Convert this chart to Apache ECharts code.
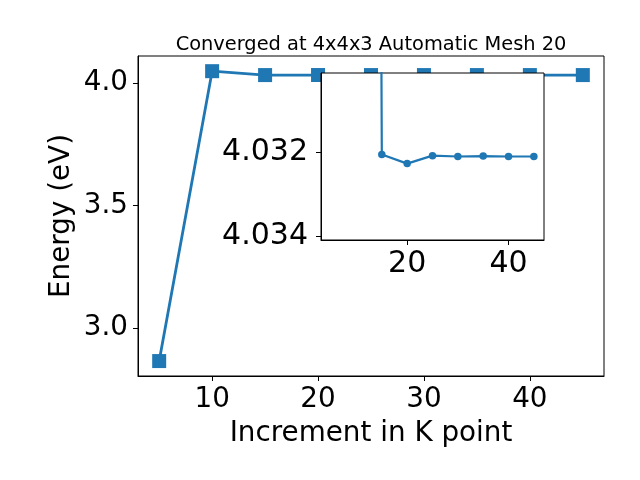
<!DOCTYPE html>
<html><head><meta charset="utf-8">
<script src="https://cdn.jsdelivr.net/npm/echarts@6/dist/echarts.min.js"></script>
<style>html,body{margin:0;padding:0;background:#fff}#c{width:640px;height:480px}</style>
</head><body><div id="c"></div>
<script>
// Main plot data
const kPoints = [5, 10, 15, 20, 25, 30, 35, 40, 45];
const energies = [2.864, 4.048, 4.03205, 4.03227, 4.03208, 4.0321, 4.03209, 4.0321, 4.0321];
const mainXTicks = [10, 20, 30, 40];
const mainYTicks = [3.0, 3.5, 4.0];
// Inset data (inverted y axis; the x=10 value lies off the top of the inset)
const insetK = [10, 15, 20, 25, 30, 35, 40, 45];
const insetEnergies = [3.9, 4.03205, 4.03227, 4.03208, 4.0321, 4.03209, 4.0321, 4.0321];
const insetXTicks = [20, 40];
const insetYTicks = [4.032, 4.034];

const FONT = 'DejaVu Sans';
const C = '#1f77b4';
const chart = echarts.init(document.getElementById('c'), null, {renderer: 'canvas'});
const axisCommon = (ticks, fmt, fs, margin) => ({
  axisLine: {show: true, onZero: false, lineStyle: {color: '#000', width: 1}},
  axisTick: {show: true, length: 5, lineStyle: {color: '#000', width: 1}, customValues: ticks},
  axisLabel: {show: true, margin: margin, color: '#000', fontFamily: FONT, fontSize: fs, customValues: ticks, formatter: fmt},
  splitLine: {show: false}
});
chart.setOption({
  animation: false,
  backgroundColor: '#fff',
  title: {text: 'Converged at 4x4x3 Automatic Mesh 20', left: 366, top: 30, textAlign: 'center',
    textStyle: {fontFamily: FONT, fontSize: 19.4, fontWeight: 'normal', color: '#000'}},
  grid: [
    {left: 138, top: 56, width: 466, height: 320, show: true, borderColor: '#000', borderWidth: 1, backgroundColor: 'transparent', z: 0},
    {left: 321, top: 73, width: 223, height: 167, show: true, borderColor: '#000', borderWidth: 1, backgroundColor: '#fff', z: 5}
  ],
  xAxis: [
    Object.assign({type: 'value', gridIndex: 0, min: 3, max: 47, name: 'Increment in K point', nameLocation: 'middle', nameGap: 44,
      nameMoveOverlap: false,
      nameTextStyle: {fontFamily: FONT, fontSize: 27.8, color: '#000'}}, axisCommon(mainXTicks, v => String(v), 27.8, 10)),
    Object.assign({type: 'value', gridIndex: 1, min: 3, max: 47, z: 6}, axisCommon(insetXTicks, v => String(v), 30, 9))
  ],
  yAxis: [
    Object.assign({type: 'value', gridIndex: 0, min: 2.803, max: 4.110, name: 'Energy (eV)', nameLocation: 'middle', nameGap: 62,
      nameMoveOverlap: false,
      nameTextStyle: {fontFamily: FONT, fontSize: 27.8, color: '#000'}}, axisCommon(mainYTicks, v => v.toFixed(1), 27.8, 10)),
    Object.assign({type: 'value', gridIndex: 1, min: 4.0301, max: 4.0341, inverse: true, z: 6}, axisCommon(insetYTicks, v => v.toFixed(3), 30, 13))
  ],
  series: [
    {type: 'line', xAxisIndex: 0, yAxisIndex: 0, data: kPoints.map((k, i) => [k, energies[i]]),
      symbol: 'rect', symbolSize: 14, showAllSymbol: true, lineStyle: {color: C, width: 2.8}, itemStyle: {color: C}, z: 2},
    {type: 'line', xAxisIndex: 1, yAxisIndex: 1, data: insetK.map((k, i) => [k, insetEnergies[i]]), clip: true,
      symbol: 'circle', symbolSize: 7.5, showAllSymbol: true, lineStyle: {color: C, width: 2.2}, itemStyle: {color: C}, z: 8}
  ]
});
</script></body></html>
